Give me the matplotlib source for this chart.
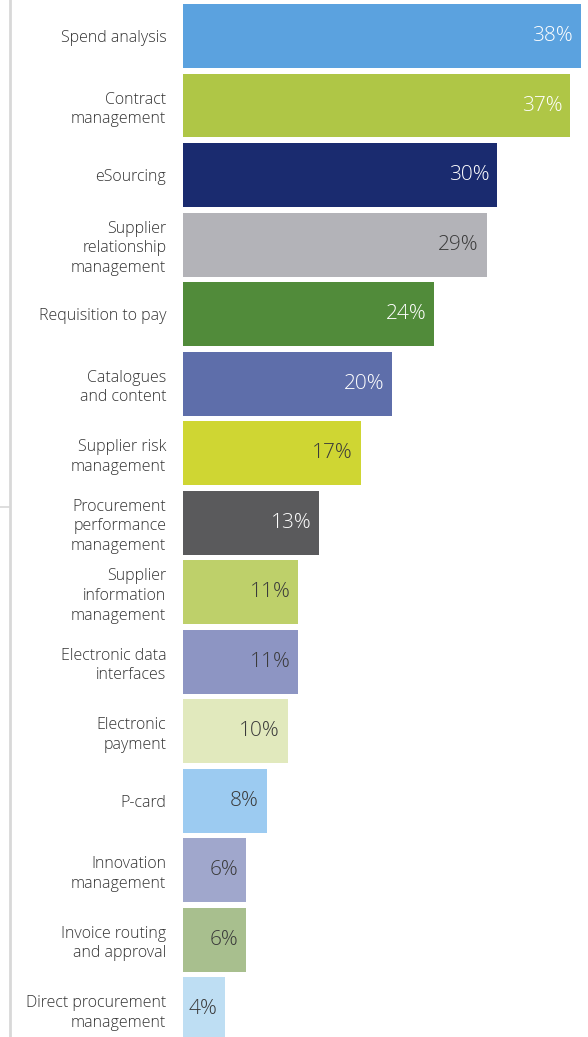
import matplotlib.pyplot as plt
from matplotlib.lines import Line2D

plt.rcParams['font.family'] = ['Open Sans', 'DejaVu Sans']

# data
categories = [
    "Spend analysis",
    "Contract\nmanagement",
    "eSourcing",
    "Supplier\nrelationship\nmanagement",
    "Requisition to pay",
    "Catalogues\nand content",
    "Supplier risk\nmanagement",
    "Procurement\nperformance\nmanagement",
    "Supplier\ninformation\nmanagement",
    "Electronic data\ninterfaces",
    "Electronic\npayment",
    "P-card",
    "Innovation\nmanagement",
    "Invoice routing\nand approval",
    "Direct procurement\nmanagement",
]
values = [38, 37, 30, 29, 24, 20, 17, 13, 11, 11, 10, 8, 6, 6, 4]
bar_colors = ["#5BA2DF", "#AFC646", "#1A2B6F", "#B3B3B8", "#518B3A",
              "#5E6EAA", "#CFD633", "#5A5A5C", "#BED06A", "#8D95C3",
              "#E1E9BD", "#9CCBF1", "#A0A7CC", "#A8BF8E", "#BEDEF3"]
label_colors = ["white", "white", "white", "#3a3a3a", "white", "white",
                "#3a3a3a", "white", "#3a3a3a", "#3a3a3a", "#3a3a3a",
                "#3a3a3a", "#3a3a3a", "#3a3a3a", "#3a3a3a"]

W, H = 588, 1037
fig = plt.figure(figsize=(W / 100, H / 100), dpi=100)
ax = fig.add_axes([183 / W, 0, 1 - 183 / W, 1])

pos = list(range(len(values)))
ax.barh(pos, values, height=0.92, color=bar_colors)
ax.set_xlim(0, 38.68)
ax.set_ylim(14.40, -0.518)

for p, v, c in zip(pos, values, label_colors):
    ax.text(v - 0.75, p, f"{v}%", ha="right", va="center",
            fontsize=15, color=c, fontweight="light")

ax.set_yticks(pos)
ax.set_yticklabels(categories, fontsize=11.5, color="#333333",
                   linespacing=1.3, fontweight="light")
ax.tick_params(axis="y", length=0, pad=12)
ax.set_xticks([])
for s in ax.spines.values():
    s.set_visible(False)

# thin grey rule on the left
fig.add_artist(Line2D([10 / W, 10 / W], [0, 1], color="#D8D8D8", lw=2))
fig.add_artist(Line2D([0, 10 / W], [1 - 507 / H, 1 - 507 / H], color="#D8D8D8", lw=1.2))

fig.savefig("out.png", dpi=100)
